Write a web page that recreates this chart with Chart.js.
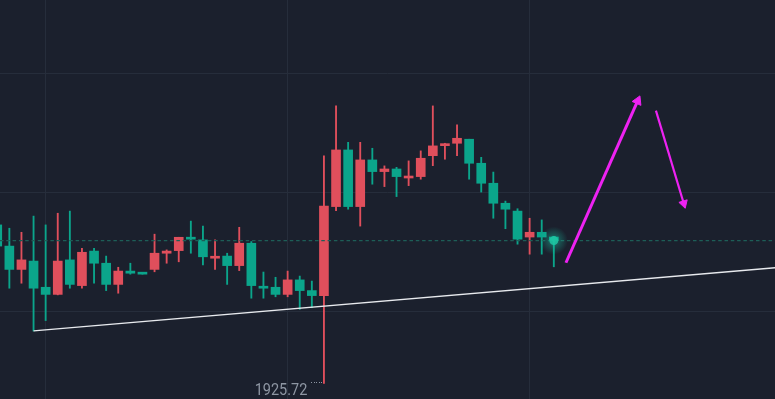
<!DOCTYPE html>
<html>
<head>
<meta charset="utf-8">
<style>
  html, body { margin: 0; padding: 0; background: #1b202d; overflow: hidden; }
  #c { display: block; }
</style>
<script src="https://cdn.jsdelivr.net/npm/chart.js@4.4.1/dist/chart.umd.min.js"></script>
</head>
<body>
<canvas id="c" width="775" height="399"></canvas>
<script>
// ---------- data ----------
const opens  = [1932.38,1931.49,1930.51,1930.86,1929.76,1929.46,1930.91,1929.83,1931.28,1930.77,
                1929.88,1930.44,1930.35,1930.51,1931.19,1931.30,1931.86,1931.75,1930.98,1931.07,
                1930.67,1931.61,1929.76,1929.76,1929.46,1930.07,1929.62,1929.41,1933.15,1935.53,
                1933.15,1935.11,1934.62,1934.73,1934.35,1934.41,1935.29,1935.71,1935.81,1935.98,
                1934.97,1934.13,1933.29,1932.96,1931.87,1932.07,1931.87];
const highs  = [1932.42,1932.24,1932.07,1932.75,1932.38,1932.87,1932.96,1931.40,1931.40,1931.07,
                1930.60,1930.77,1930.35,1931.99,1931.33,1931.86,1932.54,1932.33,1931.75,1931.19,
                1932.28,1931.68,1930.40,1930.18,1930.44,1930.23,1930.02,1935.28,1937.38,1935.85,
                1935.85,1935.60,1934.86,1934.80,1935.07,1935.49,1937.38,1935.81,1936.58,1935.98,
                1935.22,1934.60,1933.38,1933.06,1932.66,1932.59,1931.89];
const lows   = [1931.45,1929.72,1929.93,1927.92,1928.36,1929.44,1929.72,1929.72,1929.93,1929.62,
                1929.51,1930.31,1930.31,1930.41,1930.77,1930.83,1931.19,1930.70,1930.51,1929.88,
                1930.46,1929.30,1929.30,1929.36,1929.36,1928.83,1928.90,1925.72,1932.98,1933.04,
                1932.33,1934.09,1933.99,1933.57,1934.03,1934.30,1934.87,1935.14,1935.29,1934.30,
                1933.76,1932.66,1932.22,1931.57,1931.15,1931.15,1930.62];
const closes = [1931.49,1930.51,1930.91,1929.72,1929.46,1930.86,1929.88,1931.23,1930.77,1929.88,
                1930.44,1930.35,1930.31,1931.19,1931.28,1931.86,1931.78,1931.04,1931.02,1930.67,
                1931.61,1929.83,1929.72,1929.46,1930.07,1929.62,1929.41,1933.17,1935.53,1933.15,
                1935.11,1934.62,1934.73,1934.41,1934.39,1935.18,1935.70,1935.75,1936.02,1934.97,
                1934.13,1933.29,1933.04,1931.78,1932.07,1931.87,1931.72];

const trendX  = [3, 64.3];
const trendY  = [1927.93, 1930.58];
const arrowUpX   = [47.0, 52.93];
const arrowUpY   = [1930.79, 1937.59];
const arrowDownX = [54.44, 56.74];
const arrowDownY = [1937.18, 1933.28];

const xGridTicks = [4, 24, 44];
const yGridTicks = [1928.75, 1933.75, 1938.75];

// ---------- style ----------
const BG = '#1b202d';
const GRID = '#262d3b';
const RED = '#e04f5c';
const TEAL = '#0ba58b';
const MAGENTA = '#ee22f2';
const DASH = '#1d5e57';
const LABEL = '#8e96a3';
const X_MIN = 0.227, X_MAX = 64.28;
const Y_MIN = 1925.065, Y_MAX = 1941.83;

const idx = opens.map((_, i) => i);
const colorOf = i => closes[i] >= opens[i] ? RED : TEAL;
const candleColors = idx.map(colorOf);
const last = closes.length - 1;

const bodies = idx.map(i => ({ x: i, y: [Math.min(opens[i], closes[i]), Math.max(opens[i], closes[i])] }));
const wicks  = idx.map(i => ({ x: i, y: [lows[i], highs[i]] }));

const bgPlugin = {
  id: 'bg',
  beforeDraw(chart) {
    const c = chart.ctx;
    c.save();
    c.fillStyle = BG;
    c.fillRect(0, 0, chart.width, chart.height);
    c.restore();
  }
};

const lowLabelPlugin = {
  id: 'lowLabel',
  afterDatasetsDraw(chart) {
    const { ctx, scales: { x, y } } = chart;
    let i = 0;
    lows.forEach((v, k) => { if (v < lows[i]) i = k; });
    const px = x.getPixelForValue(i);
    const py = y.getPixelForValue(lows[i]);
    ctx.save();
    ctx.fillStyle = LABEL;
    for (let k = 0; k < 5; k++) {
      ctx.fillRect(Math.round(px - 2.5 - k * 2.6), Math.round(py) - 1, 1, 1);
    }
    const txt = lows[i].toFixed(2);
    ctx.font = '16px Roboto';
    const w = ctx.measureText(txt).width;
    const targetW = 52.7;
    ctx.translate(px - 16.6, py + 11.7);
    ctx.scale(targetW / w, 1);
    ctx.textAlign = 'right';
    ctx.textBaseline = 'alphabetic';
    ctx.fillText(txt, 0, 0);
    ctx.restore();
  }
};

const glowColor = (c) => {
  const ch = c.chart;
  if (!ch.chartArea) return 'rgba(0,0,0,0)';
  const gx = ch.scales.x.getPixelForValue(last);
  const gy = ch.scales.y.getPixelForValue(closes[last]);
  const g = ch.ctx.createRadialGradient(gx, gy, 0, gx, gy, 14);
  g.addColorStop(0, 'rgba(24,190,160,0.6)');
  g.addColorStop(0.5, 'rgba(24,190,160,0.28)');
  g.addColorStop(1, 'rgba(24,190,160,0)');
  return g;
};

new Chart(document.getElementById('c'), {
  type: 'bar',
  data: {
    datasets: [
      {
        type: 'bar', label: 'wicks', data: wicks, grouped: false,
        backgroundColor: candleColors, barThickness: 1.2, borderWidth: 0, order: 10
      },
      {
        type: 'bar', label: 'bodies', data: bodies, grouped: false,
        backgroundColor: candleColors, barThickness: 9, minBarLength: 2, borderWidth: 0, order: 9
      },
      {
        type: 'line', label: 'last', data: [{ x: X_MIN, y: closes[last] }, { x: X_MAX, y: closes[last] }],
        borderColor: DASH, borderWidth: 1.4, borderDash: [3.5, 2.8], pointRadius: 0, order: 8
      },
      {
        type: 'scatter', label: 'glow', data: [{ x: last, y: closes[last] }],
        backgroundColor: glowColor, borderWidth: 0, pointRadius: 14, pointHoverRadius: 14, order: 7
      },
      {
        type: 'scatter', label: 'marker', data: [{ x: last, y: closes[last] }],
        backgroundColor: 'rgba(30,200,165,0.85)', borderWidth: 0, pointRadius: 4.5, pointHoverRadius: 4.5, order: 6
      },
      {
        type: 'line', label: 'trend', data: trendX.map((v, k) => ({ x: v, y: trendY[k] })),
        borderColor: '#e8eaee', borderWidth: 1.3, pointRadius: 0, order: 5
      },
      {
        type: 'line', label: 'up', data: arrowUpX.map((v, k) => ({ x: v, y: arrowUpY[k] })),
        borderColor: MAGENTA, borderWidth: 3, pointRadius: [0, 5.5], pointStyle: 'triangle',
        pointRotation: [0, 24], pointBackgroundColor: MAGENTA, pointBorderColor: MAGENTA, pointBorderWidth: 1, order: 3
      },
      {
        type: 'line', label: 'down', data: arrowDownX.map((v, k) => ({ x: v, y: arrowDownY[k] })),
        borderColor: MAGENTA, borderWidth: 2.2, pointRadius: [0, 5], pointStyle: 'triangle',
        pointRotation: [0, 163], pointBackgroundColor: MAGENTA, pointBorderColor: MAGENTA, pointBorderWidth: 1, order: 3
      }
    ]
  },
  options: {
    responsive: false,
    animation: false,
    devicePixelRatio: 1,
    layout: { padding: 0, autoPadding: false },
    events: [],
    plugins: { legend: { display: false }, tooltip: { enabled: false } },
    scales: {
      x: {
        type: 'linear', min: X_MIN, max: X_MAX, offset: false,
        ticks: { display: false },
        grid: { color: GRID, lineWidth: 1, drawTicks: false, offset: false },
        border: { display: false },
        afterBuildTicks: s => { s.ticks = xGridTicks.map(v => ({ value: v })); }
      },
      y: {
        type: 'linear', min: Y_MIN, max: Y_MAX, beginAtZero: false,
        ticks: { display: false },
        grid: { color: GRID, lineWidth: 1, drawTicks: false },
        border: { display: false },
        afterBuildTicks: s => { s.ticks = yGridTicks.map(v => ({ value: v })); }
      }
    }
  },
  plugins: [bgPlugin, lowLabelPlugin]
});
</script>
</body>
</html>
